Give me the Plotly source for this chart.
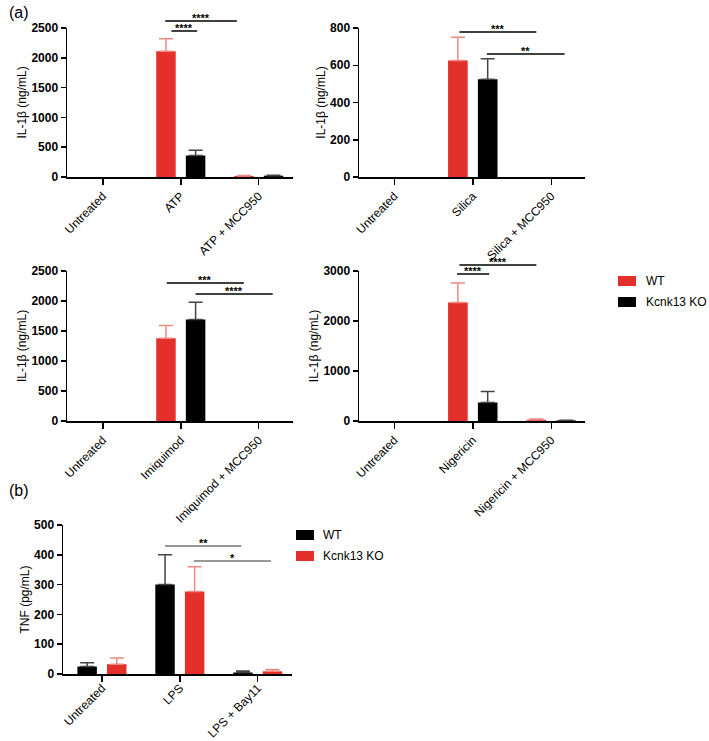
import plotly.graph_objects as go

W, H = 709, 741

# ---------------- data ----------------
# None = nothing detectable (no bar drawn)
cats_atp = ["Untreated", "ATP", "ATP + MCC950"]
atp_wt = [None, 2110, 18]
atp_wt_err = [None, 210, 8]
atp_ko = [None, 360, 22]
atp_ko_err = [None, 90, 6]

cats_sil = ["Untreated", "Silica", "Silica + MCC950"]
sil_wt = [None, 625, None]
sil_wt_err = [None, 125, None]
sil_ko = [None, 525, None]
sil_ko_err = [None, 110, None]

cats_imq = ["Untreated", "Imiquimod", "Imiquimod + MCC950"]
imq_wt = [None, 1380, None]
imq_wt_err = [None, 210, None]
imq_ko = [None, 1690, None]
imq_ko_err = [None, 290, None]

cats_nig = ["Untreated", "Nigericin", "Nigericin + MCC950"]
nig_wt = [None, 2370, 25]
nig_wt_err = [None, 390, 15]
nig_ko = [None, 370, 12]
nig_ko_err = [None, 220, 5]

cats_lps = ["Untreated", "LPS", "LPS + Bay11"]
lps_wt = [25, 300, 5]
lps_wt_err = [13, 100, 5]
lps_ko = [33, 277, 9]
lps_ko_err = [21, 83, 6]

legend_a = ["WT", "Kcnk13 KO"]
legend_b = ["WT", "Kcnk13 KO"]

# significance brackets: (x0, x1, y_px, label) in category units
br_atp = [(0.80, 1.72, 21, "****"), (0.88, 1.21, 31, "****")]
br_sil = [(0.83, 1.81, 32, "***"), (1.18, 2.17, 54, "**")]
br_imq = [(0.82, 1.81, 283, "***"), (1.19, 2.18, 294, "****")]
br_nig = [(0.83, 1.81, 265, "****"), (0.80, 1.21, 274, "****")]
br_lps = [(0.81, 1.79, 546, "**"), (1.18, 2.17, 561, "*")]

RED = "#E3302A"
RED_ERR = "#EC8A84"
BLACK = "#000000"
BLACK_ERR = "#444444"
FONT = "Liberation Sans, Arial, sans-serif"

fig = go.Figure()

def px_x(p):
    return p / W

def px_y(p):
    return 1 - p / H

panels = [
    ("", cats_atp, [(legend_a[0], atp_wt, atp_wt_err, RED, RED_ERR), (legend_a[1], atp_ko, atp_ko_err, BLACK, BLACK_ERR)],
     (67, 293), (28, 177), 2500, 500, (-0.46, 2.44), br_atp, "IL-1β (ng/mL)"),
    ("2", cats_sil, [(legend_a[0], sil_wt, sil_wt_err, RED, RED_ERR), (legend_a[1], sil_ko, sil_ko_err, BLACK, BLACK_ERR)],
     (359, 585), (28, 177), 800, 200, (-0.45, 2.43), br_sil, "IL-1β (ng/mL)"),
    ("3", cats_imq, [(legend_a[0], imq_wt, imq_wt_err, RED, RED_ERR), (legend_a[1], imq_ko, imq_ko_err, BLACK, BLACK_ERR)],
     (67, 293), (271, 421), 2500, 500, (-0.46, 2.44), br_imq, "IL-1β (ng/mL)"),
    ("4", cats_nig, [(legend_a[0], nig_wt, nig_wt_err, RED, RED_ERR), (legend_a[1], nig_ko, nig_ko_err, BLACK, BLACK_ERR)],
     (359, 585), (271, 421), 3000, 1000, (-0.45, 2.43), br_nig, "IL-1β (ng/mL)"),
    ("5", cats_lps, [(legend_b[0], lps_wt, lps_wt_err, BLACK, BLACK_ERR), (legend_b[1], lps_ko, lps_ko_err, RED, RED_ERR)],
     (63, 292), (525, 674), 500, 100, (-0.5, 2.44), br_lps, "TNF (pg/mL)"),
]

layout = dict(
    width=W, height=H,
    margin=dict(l=0, r=0, t=0, b=0, autoexpand=False),
    paper_bgcolor="white", plot_bgcolor="white",
    barmode="overlay", showlegend=False,
    font=dict(family=FONT, size=12, color="black"),
    shapes=[], annotations=[],
)

for (suf, cats, series, xr, yr, ymax, dtick, xrange, brackets, ytitle) in panels:
    xa = "x" + suf
    ya = "y" + suf
    offsets = [-0.315, 0.065]
    for i, (name, vals, errs, col, ecol) in enumerate(series):
        fig.add_trace(go.Bar(
            x=cats, y=vals, name=name, xaxis=xa, yaxis=ya,
            marker=dict(color=col, line=dict(width=0)),
            width=0.25, offset=offsets[i],
            error_y=dict(type="data", symmetric=False, array=errs,
                         arrayminus=[0 if e is not None else None for e in errs], color=ecol,
                         thickness=1.5, width=7),
        ))
    layout["xaxis" + suf] = dict(
        domain=[px_x(xr[0]), px_x(xr[1])], anchor=ya, range=list(xrange),
        type="category", categoryorder="array", categoryarray=cats,
        showline=True, linecolor="black", linewidth=1.5,
        ticks="outside", ticklen=6, tickwidth=1.5, tickcolor="black",
        tickangle=-45, tickfont=dict(family=FONT, size=12, color="black"),
        ticklabelstandoff=(-5 if suf == "5" else 0),
        showgrid=False, zeroline=False, fixedrange=True, automargin=False,
    )
    layout["yaxis" + suf] = dict(
        domain=[px_y(yr[1]), px_y(yr[0])], anchor=xa, range=[0, ymax],
        dtick=dtick, tick0=0,
        showline=True, linecolor="black", linewidth=1.5,
        ticks="outside", ticklen=5, tickwidth=1.5, tickcolor="black",
        tickfont=dict(family=FONT, size=12, color="black", weight="bold"),
        showgrid=False, zeroline=False, automargin=False, fixedrange=True,
        title=dict(text=ytitle, font=dict(family=FONT, size=12, color="black"), standoff=2),
    )
    for (x0, x1, ypx, lab) in brackets:
        yp = px_y(ypx)
        lw = 1.0 if suf == "5" else 1.5
        lc = "#333333" if suf == "5" else "black"
        layout["shapes"].append(dict(type="line", xref=xa, yref="paper",
                                     x0=x0, x1=x1, y0=yp, y1=yp,
                                     line=dict(color=lc, width=lw)))
        layout["annotations"].append(dict(xref=xa, yref="paper", x=(x0 + x1) / 2, y=yp,
                                          text=lab, showarrow=False, yanchor="bottom",
                                          yshift=-5,
                                          font=dict(family=FONT, size=11, color="black", weight="bold")))

# panel labels
for lab, ypx in (("(a)", 12), ("(b)", 490)):
    layout["annotations"].append(dict(xref="paper", yref="paper", x=px_x(7), y=px_y(ypx), text=lab,
                                      showarrow=False, xanchor="left", yanchor="middle",
                                      font=dict(family=FONT, size=16, color="black")))

# legends (drawn as swatches + labels)
def add_legend(names, colors, x_sw, x_txt, y_centers):
    for name, col, yc in zip(names, colors, y_centers):
        layout["shapes"].append(dict(type="rect", xref="paper", yref="paper",
                                     x0=px_x(x_sw), x1=px_x(x_sw + 18),
                                     y0=px_y(yc + 5), y1=px_y(yc - 5),
                                     fillcolor=col, line=dict(width=0)))
        layout["annotations"].append(dict(xref="paper", yref="paper", x=px_x(x_txt), y=px_y(yc),
                                          text=name, showarrow=False, xanchor="left", yanchor="middle",
                                          font=dict(family=FONT, size=12, color="black")))

add_legend(legend_a, [RED, BLACK], 618, 644, [281, 302])
add_legend(legend_b, [BLACK, RED], 296, 321, [535, 556])

fig.update_layout(**layout)
fig.write_html("out.html", config={"displayModeBar": False, "staticPlot": True},
               post_script="document.body.style.margin='0';document.body.style.overflow='hidden';")
